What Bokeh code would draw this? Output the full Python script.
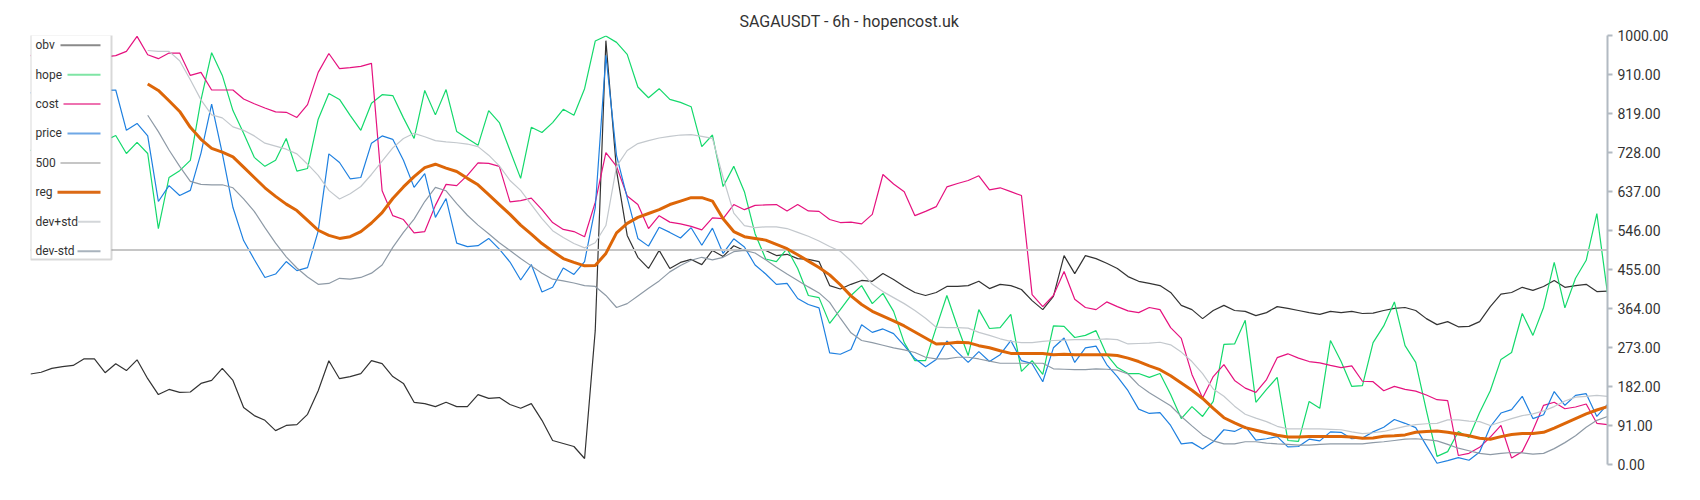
from bokeh.plotting import figure
from bokeh.models import Range1d, FixedTicker, NumeralTickFormatter, Label, BoxAnnotation
from bokeh.embed import file_html
from bokeh.resources import INLINE

NAN = float("nan")

title_text = "SAGAUSDT - 6h - hopencost.uk"

obv = [211, 215, 224, 228, 231, 246, 246, 214, 235, 219,
       244, 200, 163, 175, 168, 169, 189, 196, 224, 196,
       133, 114, 103, 79, 91, 93, 117, 172, 242, 200,
       205, 212, 242, 235, 205, 189, 145, 142, 135, 145,
       135, 135, 163, 154, 156, 140, 131, 142, 103, 56,
       49, 42, 14, 312, 988, 685, 534, 483, 457, 499,
       457, 471, 478, 466, 499, 485, 510, 499, 501, 499,
       487, 490, 480, 478, 473, 417, 409, 420, 429, 427,
       445, 431, 415, 401, 394, 401, 415, 415, 417, 427,
       410, 420, 417, 408, 382, 361, 392, 487, 445, 487,
       480, 469, 457, 438, 427, 422, 417, 401, 371, 361,
       340, 359, 371, 359, 357, 347, 354, 368, 364, 359,
       354, 350, 357, 354, 357, 352, 353, 359, 364, 366,
       359, 340, 326, 333, 321, 322, 333, 368, 397, 401,
       413, 406, 415, 429, 413, 417, 420, 403, 404]

hope = [732, 743, 720, 709, 732, 755, 736, 755, 767, 725,
        751, 725, 550, 669, 685, 709, 850, 960, 907, 825,
        772, 716, 695, 709, 760, 684, 690, 805, 865, 851,
        814, 779, 842, 862, 860, 808, 760, 872, 815, 874,
        776, 760, 744, 825, 797, 732, 667, 786, 774, 797,
        828, 814, 876, 987, 999, 984, 956, 880, 855, 876,
        851, 844, 834, 741, 768, 648, 695, 636, 538, 479,
        473, 503, 457, 394, 389, 329, 361, 394, 417, 375,
        399, 357, 284, 242, 242, 319, 394, 321, 254, 361,
        317, 319, 350, 217, 242, 210, 323, 322, 296, 301,
        312, 256, 226, 212, 212, 203, 212, 163, 107, 135,
        112, 147, 280, 281, 336, 145, 175, 203, 56, 54,
        147, 131, 289, 240, 182, 184, 284, 323, 379, 277,
        238, 126, 19, 30, 77, 63, 121, 172, 245, 261,
        352, 301, 366, 471, 365, 434, 476, 585, 399]

cost = [953, 960, 950, 945, 955, 948, 940, 950, 953, 963,
        998, 955, 946, 959, 959, 907, 914, 873, 873, 873,
        852, 841, 831, 822, 821, 809, 839, 914, 958, 923,
        925, 928, 935, 638, 580, 571, 540, 543, 604, 653,
        650, 674, 703, 702, 695, 612, 615, 621, 594, 564,
        548, 543, 531, 611, 727, 695, 626, 606, 550, 580,
        565, 561, 555, 547, 575, 573, 606, 594, 604, 605,
        606, 591, 606, 591, 590, 571, 564, 565, 561, 583,
        676, 654, 636, 580, 590, 601, 647, 655, 662, 673,
        640, 645, 636, 627, 396, 368, 394, 450, 385, 366,
        361, 379, 368, 358, 354, 366, 361, 319, 294, 210,
        155, 205, 233, 196, 178, 168, 198, 249, 258, 248,
        240, 237, 231, 226, 230, 194, 193, 172, 182, 175,
        171, 162, 151, 149, 21, 26, 40, 64, 91, 15,
        30, 80, 138, 145, 130, 134, 141, 96, 93]

price = [867, 860, 849, 853, 862, 858, 867, 872, 873, 779,
         795, 766, 613, 650, 627, 639, 726, 840, 725, 599,
         522, 478, 436, 444, 473, 452, 459, 544, 724, 704,
         666, 669, 749, 766, 758, 709, 646, 678, 576, 620,
         516, 508, 510, 527, 502, 472, 430, 466, 402, 413,
         458, 443, 473, 598, 954, 720, 622, 527, 509, 553,
         541, 528, 552, 511, 551, 492, 526, 507, 465, 444,
         420, 422, 387, 373, 365, 260, 257, 268, 326, 308,
         316, 305, 277, 247, 228, 245, 288, 262, 238, 263,
         240, 256, 289, 242, 235, 193, 272, 295, 238, 272,
         276, 233, 205, 172, 129, 119, 121, 91, 48, 51,
         36, 53, 81, 77, 89, 57, 60, 65, 41, 42,
         59, 55, 76, 75, 60, 62, 76, 87, 105, 96,
         86, 44, 3, 9, 16, 10, 29, 88, 120, 128,
         159, 107, 116, 170, 138, 161, 165, 112, 140]

reg = [NAN] * 11 + [
    887, 872, 848, 823, 786, 758, 737, 728, 717,
    693, 669, 645, 625, 607, 592, 569, 546, 534, 527,
    531, 543, 563, 587, 620, 647, 671, 692, 700, 691,
    683, 667, 652, 629, 606, 583, 558, 537, 515, 497,
    480, 471, 463, 464, 492, 540, 562, 576, 585, 594,
    606, 614, 622, 622, 614, 573, 543, 531, 527, 523,
    513, 503, 489, 474, 459, 442, 419, 393, 373, 357,
    346, 335, 323, 309, 295, 281, 282, 285, 284, 277,
    272, 265, 259, 259, 259, 259, 256, 257, 256, 256,
    256, 256, 254, 248, 240, 230, 221, 207, 190, 173,
    154, 131, 109, 97, 86, 80, 74, 68, 64, 64,
    65, 65, 65, 65, 64, 61, 62, 66, 67, 69,
    75, 77, 78, 75, 71, 67, 61, 59, 65, 70,
    72, 72, 75, 85, 96, 107, 118, 127, 135]

dev_plus_std = [NAN] * 11 + [
    965, 963, 963, 941, 897, 850, 815, 808, 787,
    779, 766, 749, 742, 735, 724, 700, 674, 639, 619,
    631, 648, 676, 707, 738, 760, 772, 764, 755, 752,
    750, 747, 741, 721, 696, 662, 639, 606, 573, 545,
    529, 515, 505, 517, 557, 695, 732, 748, 755, 761,
    765, 768, 769, 765, 760, 669, 586, 557, 552, 554,
    554, 550, 541, 532, 521, 508, 497, 475, 449, 420,
    403, 389, 375, 359, 341, 320, 319, 319, 318, 308,
    301, 293, 287, 284, 284, 287, 289, 290, 291, 291,
    291, 293, 291, 281, 282, 283, 285, 279, 262, 240,
    212, 176, 159, 136, 117, 108, 100, 89, 83, 83,
    83, 83, 82, 81, 76, 72, 74, 77, 83, 89,
    93, 95, 96, 104, 104, 101, 100, 91, 99, 107,
    114, 118, 125, 135, 148, 157, 159, 161, 159]

dev_minus_std = [NAN] * 11 + [
    814, 776, 733, 695, 660, 653, 652, 652, 645,
    619, 590, 552, 516, 484, 458, 437, 420, 422, 434,
    432, 436, 446, 465, 506, 541, 572, 613, 646, 638,
    608, 581, 558, 538, 517, 499, 480, 463, 446, 432,
    428, 423, 417, 415, 394, 366, 375, 393, 411, 428,
    449, 464, 476, 483, 477, 483, 496, 499, 493, 477,
    460, 444, 429, 414, 400, 378, 341, 307, 289, 284,
    278, 272, 267, 261, 250, 246, 246, 250, 250, 246,
    241, 236, 236, 236, 236, 236, 223, 222, 221, 221,
    223, 222, 220, 211, 185, 167, 152, 137, 112, 90,
    69, 55, 48, 48, 53, 53, 50, 48, 47, 45,
    45, 47, 48, 48, 48, 48, 51, 53, 56, 59,
    60, 58, 55, 47, 38, 32, 26, 23, 26, 28,
    27, 24, 26, 37, 51, 67, 87, 103, 112]

level_500 = 500
y_ticks = [0, 91, 182, 273, 364, 455, 546, 637, 728, 819, 910, 1000]

x = list(range(len(obv)))
line_500 = [level_500] * len(x)

FONT = "Roboto"

p = figure(width=1692, height=492, output_backend="svg", toolbar_location=None,
           x_range=Range1d(0, len(x) - 1), y_range=Range1d(0, 1000),
           x_axis_location=None, y_axis_location="right",
           min_border_left=30, min_border_right=85, min_border_top=35, min_border_bottom=28)
p.background_fill_color = "white"
p.border_fill_color = "white"
p.outline_line_color = None
p.xgrid.visible = False
p.ygrid.visible = False

# title, centred over the whole figure
p.title.text = title_text
p.title.align = "left"
p.title.offset = 709
p.title.text_font = FONT
p.title.text_font_size = "16px"
p.title.text_font_style = "normal"
p.title.text_color = "#333333"

ax = p.yaxis[0]
ax.ticker = FixedTicker(ticks=y_ticks)
ax.formatter = NumeralTickFormatter(format="0.00")
ax.axis_line_color = "#b2bac2"
ax.axis_line_width = 2
ax.major_tick_line_color = "#b2bac2"
ax.major_tick_line_width = 2
ax.major_tick_in = 0
ax.major_tick_out = 5
ax.minor_tick_line_color = None
ax.major_label_text_font = FONT
ax.major_label_text_font_size = "14px"
ax.major_label_text_color = "#333333"
ax.major_label_standoff = 5

p.line(x, obv, line_color="#333333", line_width=1.2)
p.line(x, hope, line_color="#14d96c", line_width=1.2)
p.line(x, cost, line_color="#e5127f", line_width=1.2)
p.line(x, price, line_color="#1f80e0", line_width=1.2)
p.line(x, line_500, line_color="#c6c6c6", line_width=2)
p.line(x, reg, line_color="#dd6608", line_width=3)
p.line(x, dev_plus_std, line_color="#c3c8cd", line_width=1.2)
p.line(x, dev_minus_std, line_color="#8e9aa6", line_width=1.2)

# legend (label left, swatch right)
p.add_layout(BoxAnnotation(left=0, right=81, top=430, bottom=205,
                           left_units="screen", right_units="screen",
                           top_units="screen", bottom_units="screen",
                           fill_color="white", fill_alpha=1.0,
                           line_color="#7d7d7d", line_width=2, level="overlay"))

legend_labels = ["obv", "hope", "cost", "price", "500", "reg", "dev+std", "dev-std"]
legend_colors = ["#8a8a8a", "#7fe5a5", "#ee72b0", "#6fa8e6", "#c6c6c6", "#dc6a16", "#d3d6d9", "#a9b3bd"]
legend_widths = [2, 2, 2, 2, 2, 3, 2, 2]
legend_starts = [30, 37, 33, 37, 30, 27, 47, 47]

for i, (lab, col, w, s) in enumerate(zip(legend_labels, legend_colors, legend_widths, legend_starts)):
    cy = 419.3 - 29.43 * i
    p.add_layout(Label(x=5, y=cy, x_units="screen", y_units="screen", text=lab,
                       text_font=FONT, text_font_size="12px", text_color="#333333",
                       text_align="left", text_baseline="middle", level="overlay"))
    p.add_layout(BoxAnnotation(left=s, right=70, top=cy + w / 2, bottom=cy - w / 2,
                               left_units="screen", right_units="screen",
                               top_units="screen", bottom_units="screen",
                               fill_color=col, fill_alpha=1.0, line_color=None, level="overlay"))

open("out.html", "w").write(file_html(p, INLINE))
